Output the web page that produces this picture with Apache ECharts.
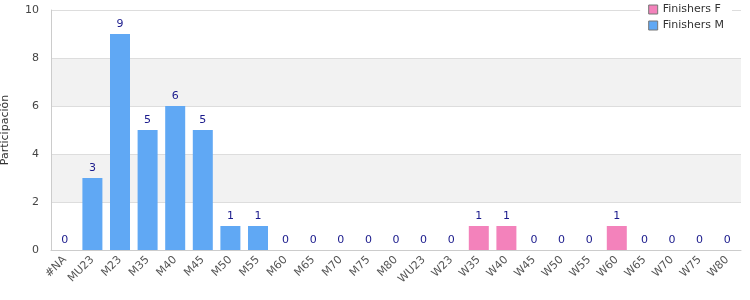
<!DOCTYPE html>
<html><head><meta charset="utf-8">
<script src="https://cdn.jsdelivr.net/npm/echarts@6/dist/echarts.min.js"></script>
<style>html,body{margin:0;padding:0;background:#fff}#c{width:750px;height:300px}</style>
</head><body><div id="c"></div>
<script>
const categories = ['#NA','MU23','M23','M35','M40','M45','M50','M55','M60','M65','M70','M75','M80','WU23','W23','W35','W40','W45','W50','W55','W60','W65','W70','W75','W80'];
const finishersM = [0,3,9,5,6,5,1,1,0,0,0,0,0,'-','-','-','-','-','-','-','-','-','-','-','-'];
const finishersF = ['-','-','-','-','-','-','-','-','-','-','-','-','-',0,0,1,1,0,0,0,1,0,0,0,0];
const yTicks = {min:0, max:10, interval:2};

const font = 'DejaVu Sans';
const chart = echarts.init(document.getElementById('c'));
const lbl = {show:true, position:'top', color:'#1a1a8c', fontFamily:font, fontSize:11, distance:4};
chart.setOption({
  animation:false,
  textStyle:{fontFamily:font},
  grid:{left:51, right:9, top:10, bottom:50, containLabel:false, outerBoundsMode:'none'},
  legend:{
    orient:'vertical', right:18, top:2, itemWidth:9, itemHeight:9, itemGap:5,
    backgroundColor:'#fff', padding:[2,8,2,8],
    textStyle:{fontFamily:font, fontSize:11, color:'#333'},
    data:[{name:'Finishers F', itemStyle:{borderColor:'#777', borderWidth:1}},{name:'Finishers M', itemStyle:{borderColor:'#777', borderWidth:1}}],
    icon:'rect'
  },
  xAxis:{
    type:'category', data:categories,
    axisLine:{lineStyle:{color:'#ccc'}}, axisTick:{show:false},
    axisLabel:{rotate:45, interval:0, color:'#555', fontFamily:font, fontSize:11, margin:8}
  },
  yAxis:{
    type:'value', min:yTicks.min, max:yTicks.max, interval:yTicks.interval,
    name:'Participación', nameLocation:'middle', nameGap:40, nameRotate:90,
    nameTextStyle:{color:'#333', fontFamily:font, fontSize:11},
    axisLine:{show:true, lineStyle:{color:'#ccc'}}, axisTick:{show:false},
    axisLabel:{color:'#444', fontFamily:font, fontSize:11, margin:12},
    splitLine:{lineStyle:{color:'#ddd'}},
    splitArea:{show:true, areaStyle:{color:['#ffffff','#f2f2f2']}}
  },
  series:[
    {name:'Finishers F', type:'bar', stack:'a', data:finishersF, barWidth:20, itemStyle:{color:'#f382bb'}, label:lbl},
    {name:'Finishers M', type:'bar', stack:'a', data:finishersM, barWidth:20, itemStyle:{color:'#60a8f4'}, label:lbl}
  ]
});
</script></body></html>
